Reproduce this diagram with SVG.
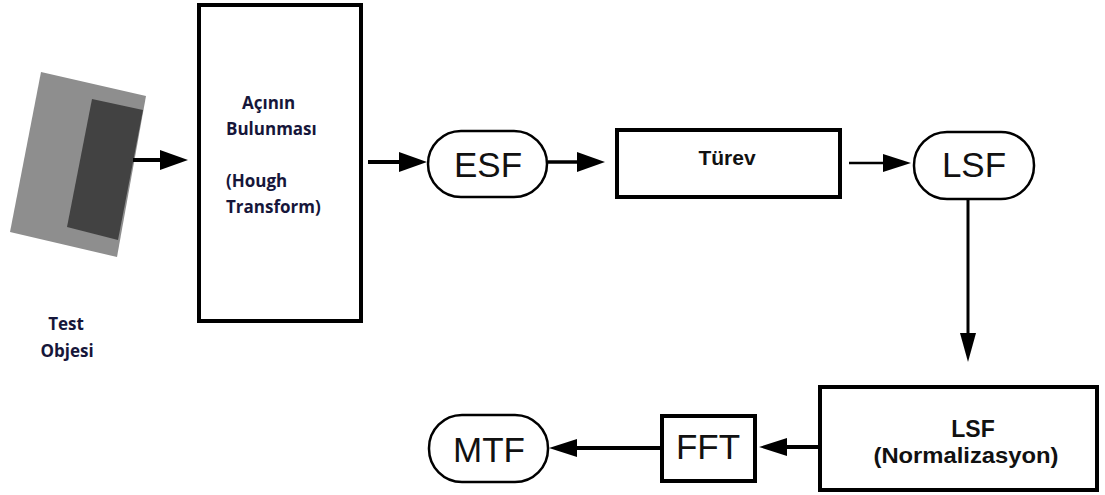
<svg xmlns="http://www.w3.org/2000/svg" width="1105" height="495" viewBox="0 0 1105 495">
<style>
.box{fill:#fff;stroke:#000;stroke-width:4}
.stad{fill:#fff;stroke:#000;stroke-width:2.5}
.big{font-family:"Liberation Sans",Arial,sans-serif;font-size:35px;fill:#111;text-anchor:middle}
.bold{font-family:"Liberation Sans",Arial,sans-serif;font-weight:bold;fill:#111;text-anchor:middle}
.cal{font-family:"Open Sans",Lato,sans-serif;font-weight:bold;font-size:17px;fill:#16163a}
.ln{stroke:#000;fill:none}
.hd{fill:#000}
</style>
<rect width="1105" height="495" fill="#fff"/>
<g id="test-object">
<polygon points="41,72 146,96 117,257 10,232" fill="#8e8e8e"/>
<polygon points="92,99 143,110 118,240 67,227" fill="#424242"/>
<text class="cal" x="66" y="330" text-anchor="middle" font-size="21">Test</text>
<text class="cal" x="67" y="357" text-anchor="middle" font-size="21">Objesi</text>
</g>
<g id="hough">
<rect class="box" x="199" y="5" width="162" height="316"/>
<text class="cal" x="242" y="109">Açının</text>
<text class="cal" x="226" y="135">Bulunması</text>
<text class="cal" x="226" y="187">(Hough</text>
<text class="cal" x="226" y="213">Transform)</text>
</g>
<g id="esf">
<rect class="stad" x="428" y="131" width="119" height="66" rx="33"/>
<text class="big" x="488" y="177">ESF</text>
</g>
<g id="turev">
<rect class="box" x="617" y="130" width="223" height="67"/>
<text class="bold" x="727" y="165" font-size="21">Türev</text>
</g>
<g id="lsf">
<rect class="stad" x="914" y="132" width="120" height="67" rx="33"/>
<text class="big" x="974" y="177">LSF</text>
</g>
<g id="lsf-norm">
<rect class="box" x="820" y="387" width="277" height="103"/>
<text class="bold" x="973" y="437" font-size="23">LSF</text>
<text class="bold" x="966" y="463" font-size="22" textLength="185" lengthAdjust="spacingAndGlyphs">(Normalizasyon)</text>
</g>
<g id="fft">
<rect class="box" x="662" y="416" width="93" height="65"/>
<text class="big" x="708" y="459">FFT</text>
</g>
<g id="mtf">
<rect class="stad" x="429" y="415" width="119" height="67" rx="33"/>
<text class="big" x="489" y="462">MTF</text>
</g>
<g id="connectors">
<line class="ln" x1="133" y1="160" x2="162" y2="160" stroke-width="4"/>
<polygon class="hd" points="160,150 188,160 160,170"/>
<line class="ln" x1="368" y1="162" x2="401" y2="162" stroke-width="4"/>
<polygon class="hd" points="399,152 427,162 399,172"/>
<line class="ln" x1="548" y1="162" x2="579" y2="162" stroke-width="3.5"/>
<polygon class="hd" points="577,152 605,162 577,172"/>
<line class="ln" x1="849" y1="163" x2="885" y2="163" stroke-width="2.5"/>
<polygon class="hd" points="883,154 911,163 883,172"/>
<line class="ln" x1="968" y1="200" x2="968" y2="335" stroke-width="3"/>
<polygon class="hd" points="960,333 968,362 976,333"/>
<line class="ln" x1="785" y1="447" x2="818" y2="447" stroke-width="4"/>
<polygon class="hd" points="787,438 759,447 787,456"/>
<line class="ln" x1="575" y1="448" x2="662" y2="448" stroke-width="4"/>
<polygon class="hd" points="577,439 549,448 577,457"/>
</g>
</svg>
